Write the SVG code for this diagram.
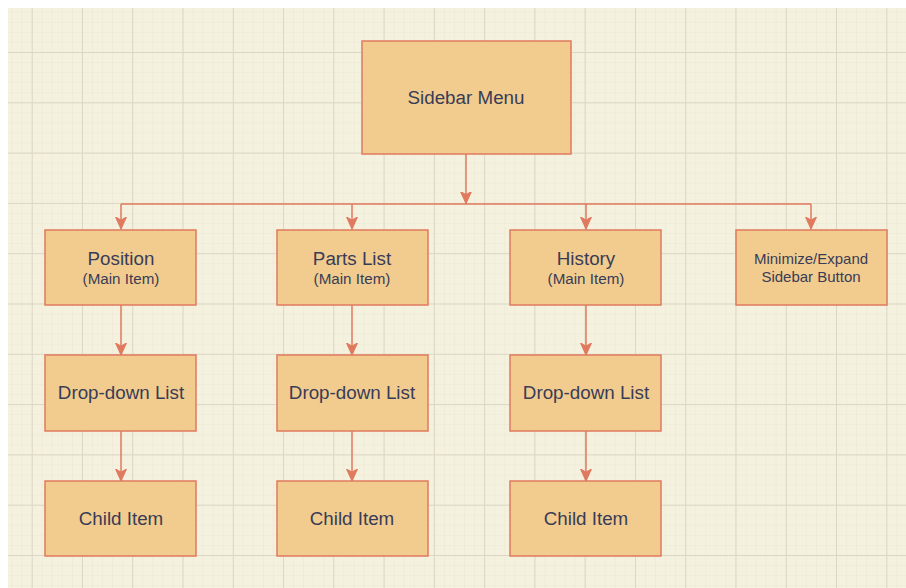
<svg xmlns="http://www.w3.org/2000/svg" width="906" height="588" viewBox="0 0 906 588">
  <defs>
    <pattern id="minor" patternUnits="userSpaceOnUse" x="31.7" y="52" width="10.054" height="10.06">
      <path d="M0 0 V10.06 M0 0 H10.054" fill="none" stroke="#ebe7d4" stroke-width="1"/>
    </pattern>
    <pattern id="major" patternUnits="userSpaceOnUse" x="31.7" y="52" width="50.27" height="50.3">
      <path d="M0.5 0 V50.3 M0 0.5 H50.27" fill="none" stroke="#dbd7c4" stroke-width="1"/>
    </pattern>
    <marker id="arr" markerUnits="userSpaceOnUse" markerWidth="13" markerHeight="13" viewBox="0 0 12 12" refX="11" refY="6" orient="auto">
      <path d="M0 1 L11 6 L0 11 L3 6 Z" fill="#e07a5f" stroke="#e07a5f" stroke-width="1" stroke-linejoin="miter"/>
    </marker>
    <style>
      .box { fill: #f2cc8f; stroke: #e07a5f; stroke-width: 1.5; }
      .t { font-family: "Liberation Sans", Arial, sans-serif; fill: #393c56; text-anchor: middle; }
      .big { font-size: 18.8px; }
      .small { font-size: 15.2px; }
      .mid { font-size: 15px; }
      .c { fill: none; stroke: #e07a5f; stroke-width: 1.5; }
    </style>
  </defs>
  <rect x="0" y="0" width="906" height="588" fill="#ffffff"/>
  <rect x="8" y="8" width="898" height="580" fill="#f4f1de"/>
  <rect x="8" y="8" width="898" height="580" fill="url(#minor)"/>
  <rect x="8" y="8" width="898" height="580" fill="url(#major)"/>

  <g id="connectors">
    <path class="c" d="M121 204 H811"/>
    <path class="c" d="M466 154 V203.5" marker-end="url(#arr)"/>
    <path class="c" d="M121 204 V229" marker-end="url(#arr)"/>
    <path class="c" d="M352 204 V229" marker-end="url(#arr)"/>
    <path class="c" d="M586 204 V229" marker-end="url(#arr)"/>
    <path class="c" d="M811 204 V229" marker-end="url(#arr)"/>
    <path class="c" d="M121 305 V355" marker-end="url(#arr)"/>
    <path class="c" d="M352 305 V355" marker-end="url(#arr)"/>
    <path class="c" d="M586 305 V355" marker-end="url(#arr)"/>
    <path class="c" d="M121 431 V481" marker-end="url(#arr)"/>
    <path class="c" d="M352 431 V481" marker-end="url(#arr)"/>
    <path class="c" d="M586 431 V481" marker-end="url(#arr)"/>
  </g>

  <g id="sidebar-menu">
    <rect class="box" x="362" y="41" width="209" height="113"/>
    <text class="t big" x="466" y="104">Sidebar Menu</text>
  </g>

  <g id="position">
    <rect class="box" x="45" y="230" width="151" height="75"/>
    <text class="t big" x="121" y="265">Position</text>
    <text class="t small" x="121" y="284">(Main Item)</text>
  </g>
  <g id="parts-list">
    <rect class="box" x="277" y="230" width="151" height="75"/>
    <text class="t big" x="352" y="265">Parts List</text>
    <text class="t small" x="352" y="284">(Main Item)</text>
  </g>
  <g id="history">
    <rect class="box" x="510" y="230" width="151" height="75"/>
    <text class="t big" x="586" y="265">History</text>
    <text class="t small" x="586" y="284">(Main Item)</text>
  </g>
  <g id="minimize-expand">
    <rect class="box" x="736" y="230" width="151" height="75"/>
    <text class="t mid" x="811" y="264">Minimize/Expand</text>
    <text class="t mid" x="811" y="282">Sidebar Button</text>
  </g>

  <g id="dropdown-position">
    <rect class="box" x="45" y="355" width="151" height="76"/>
    <text class="t big" x="121" y="398.5">Drop-down List</text>
  </g>
  <g id="dropdown-parts">
    <rect class="box" x="277" y="355" width="151" height="76"/>
    <text class="t big" x="352" y="398.5">Drop-down List</text>
  </g>
  <g id="dropdown-history">
    <rect class="box" x="510" y="355" width="151" height="76"/>
    <text class="t big" x="586" y="398.5">Drop-down List</text>
  </g>

  <g id="child-position">
    <rect class="box" x="45" y="481" width="151" height="75"/>
    <text class="t big" x="121" y="525">Child Item</text>
  </g>
  <g id="child-parts">
    <rect class="box" x="277" y="481" width="151" height="75"/>
    <text class="t big" x="352" y="525">Child Item</text>
  </g>
  <g id="child-history">
    <rect class="box" x="510" y="481" width="151" height="75"/>
    <text class="t big" x="586" y="525">Child Item</text>
  </g>
</svg>
